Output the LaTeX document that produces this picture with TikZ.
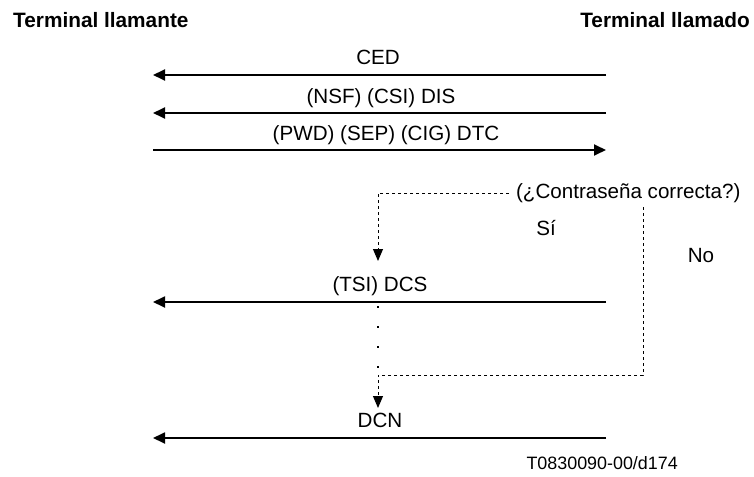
\documentclass[tikz,border=0pt]{standalone}
\usepackage{fontspec}
\setmainfont{Liberation Sans}
\usetikzlibrary{arrows.meta}

\begin{document}
\begin{tikzpicture}[x=1pt,y=-1pt,>={Triangle[length=12pt,width=11pt]},
  msg/.style={->,line width=1.8pt},
  ask/.style={->,line width=1pt,dash pattern=on 3pt off 3pt,
    >={Triangle[length=12pt,width=10pt]}},
  lbl/.style={anchor=base,inner sep=0pt,font=\fontsize{20.6}{24}\selectfont},
  hdr/.style={inner sep=0pt,font=\fontsize{20.8}{24}\selectfont\bfseries}]
  \useasboundingbox (0,0) rectangle (754,476);
  % the two terminals
  \node[hdr,anchor=base west] (calling) at (13,28) {Terminal llamante};
  \node[hdr,anchor=base east] (called) at (750,28) {Terminal llamado};
  % message lines
  \coordinate (cedR) at (606,75);  \coordinate (cedL) at (153,75);
  \coordinate (disR) at (606,113); \coordinate (disL) at (153,113);
  \coordinate (dtcL) at (153,150); \coordinate (dtcR) at (606,150);
  \coordinate (dcsR) at (606,302); \coordinate (dcsL) at (153,302);
  \coordinate (dcnR) at (606,438); \coordinate (dcnL) at (153,438);
  \draw[msg] (cedR) -- (cedL);
  \draw[msg] (disR) -- (disL);
  \draw[msg] (dtcL) -- (dtcR);
  \draw[msg] (dcsR) -- (dcsL);
  \draw[msg] (dcnR) -- (dcnL);
  \node[lbl] (ced) at (378,65) {CED};
  \node[lbl] (dis) at (381,103) {(NSF) (CSI) DIS};
  \node[lbl] (dtc) at (386,140) {(PWD) (SEP) (CIG) DTC};
  \node[lbl] (dcs) at (380,291) {(TSI) DCS};
  \node[lbl] (dcn) at (380,427) {DCN};
  % password check
  \node[lbl,anchor=west,inner sep=6.9pt] (pwq) at (509,193) {(¿Contraseña correcta?)};
  \node[lbl] (yes) at (546,235) {Sí};
  \node[lbl] (no) at (701,262) {No};
  \coordinate (yesTip) at (378,261);
  \coordinate (noTop) at (643,207);
  \coordinate (join) at (378,375);
  \coordinate (dotTop) at (378,306);
  \coordinate (dcnTip) at (378,408);
  \draw[ask] (pwq.west) -| (yesTip);
  \draw[ask] (noTop) |- (join) -- (dcnTip);
  \draw[line width=1.5pt,dash pattern=on 1.5pt off 18.5pt] (dotTop) -- (join);
  \node[anchor=base east,inner sep=0pt,font=\fontsize{17.9}{20}\selectfont] (ref) at (678,469) {T0830090-00/d174};
\end{tikzpicture}
\end{document}
